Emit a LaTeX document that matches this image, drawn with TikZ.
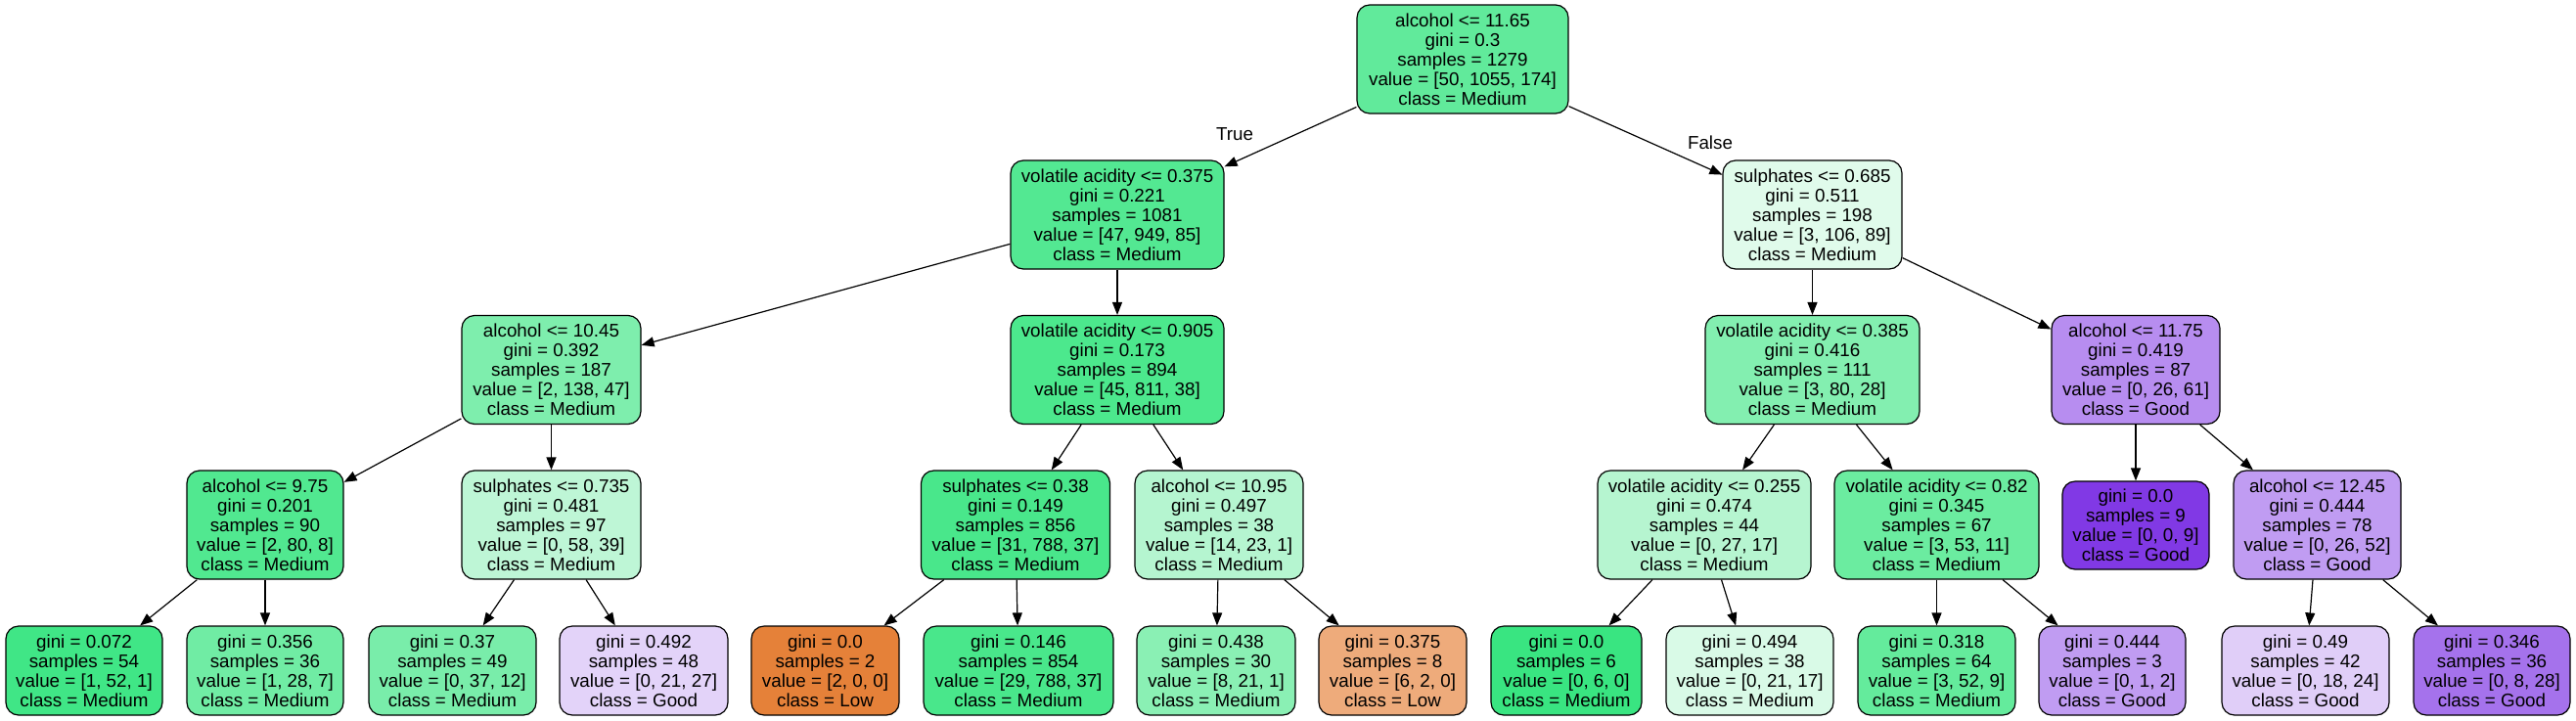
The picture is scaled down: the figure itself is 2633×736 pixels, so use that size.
\documentclass[tikz,border=0pt]{standalone}
\usepackage{fontspec}
\setmainfont{Liberation Sans}
\usetikzlibrary{arrows.meta}
\definecolor{cRoot}{RGB}{97,234,155}
\definecolor{cA}{RGB}{83,232,146}
\definecolor{cB}{RGB}{224,251,235}
\definecolor{cC}{RGB}{126,238,173}
\definecolor{cD}{RGB}{76,232,141}
\definecolor{cE}{RGB}{131,239,176}
\definecolor{cF}{RGB}{183,141,240}
\definecolor{cG}{RGB}{81,232,144}
\definecolor{cH}{RGB}{190,246,214}
\definecolor{cI}{RGB}{73,231,139}
\definecolor{cJ}{RGB}{181,245,208}
\definecolor{cK}{RGB}{182,245,208}
\definecolor{cM}{RGB}{107,236,160}
\definecolor{cN}{RGB}{129,57,229}
\definecolor{cO}{RGB}{192,156,242}
\definecolor{cLa}{RGB}{64,230,134}
\definecolor{cLb}{RGB}{112,236,164}
\definecolor{cLc}{RGB}{121,237,170}
\definecolor{cLd}{RGB}{227,211,249}
\definecolor{cLe}{RGB}{229,129,57}
\definecolor{cLf}{RGB}{73,231,139}
\definecolor{cLg}{RGB}{138,240,180}
\definecolor{cLh}{RGB}{238,171,123}
\definecolor{cLi}{RGB}{57,229,129}
\definecolor{cLj}{RGB}{217,250,231}
\definecolor{cLk}{RGB}{100,235,156}
\definecolor{cLl}{RGB}{192,156,242}
\definecolor{cLm}{RGB}{224,206,248}
\definecolor{cLn}{RGB}{165,114,236}
\begin{document}
\begin{tikzpicture}[x=1pt,y=-1pt,
  tn/.style={draw=black, line width=1.2pt, rounded corners=13pt, align=center, inner sep=0pt, font=\fontsize{18.8}{20}\selectfont},
  big/.style={tn, minimum height=111pt},
  leaf/.style={tn, minimum height=91pt},
  edge/.style={draw=black, line width=1.2pt, -{Triangle[length=13pt,width=10pt]}},
  lbl/.style={font=\fontsize{18.8}{20}\selectfont, inner sep=0pt}]
\useasboundingbox (0,0) rectangle (2633,736);
\fill[white] (0,0) rectangle (2633,736);

% level 1
\node[big, fill=cRoot, minimum width=216pt] (root) at (1495,60.5) {alcohol <= 11.65\\gini = 0.3\\samples = 1279\\value = [50, 1055, 174]\\class = Medium};
% level 2
\node[big, fill=cA, minimum width=218pt] (A) at (1142,219.5) {volatile acidity <= 0.375\\gini = 0.221\\samples = 1081\\value = [47, 949, 85]\\class = Medium};
\node[big, fill=cB, minimum width=183pt] (B) at (1852.5,219.5) {sulphates <= 0.685\\gini = 0.511\\samples = 198\\value = [3, 106, 89]\\class = Medium};
% level 3
\node[big, fill=cC, minimum width=183pt] (C) at (563.5,378) {alcohol <= 10.45\\gini = 0.392\\samples = 187\\value = [2, 138, 47]\\class = Medium};
\node[big, fill=cD, minimum width=218pt] (D) at (1142,378) {volatile acidity <= 0.905\\gini = 0.173\\samples = 894\\value = [45, 811, 38]\\class = Medium};
\node[big, fill=cE, minimum width=219pt] (E) at (1852.5,378) {volatile acidity <= 0.385\\gini = 0.416\\samples = 111\\value = [3, 80, 28]\\class = Medium};
\node[big, fill=cF, minimum width=172pt] (F) at (2183,378) {alcohol <= 11.75\\gini = 0.419\\samples = 87\\value = [0, 26, 61]\\class = Good};
% level 4
\node[big, fill=cG, minimum width=160pt] (G) at (271,536.5) {alcohol <= 9.75\\gini = 0.201\\samples = 90\\value = [2, 80, 8]\\class = Medium};
\node[big, fill=cH, minimum width=183pt] (H) at (563.5,536.5) {sulphates <= 0.735\\gini = 0.481\\samples = 97\\value = [0, 58, 39]\\class = Medium};
\node[big, fill=cI, minimum width=193pt] (I) at (1038,536.5) {sulphates <= 0.38\\gini = 0.149\\samples = 856\\value = [31, 788, 37]\\class = Medium};
\node[big, fill=cJ, minimum width=172pt] (J) at (1246,536.5) {alcohol <= 10.95\\gini = 0.497\\samples = 38\\value = [14, 23, 1]\\class = Medium};
\node[big, fill=cK, minimum width=218pt] (K) at (1742,536.5) {volatile acidity <= 0.255\\gini = 0.474\\samples = 44\\value = [0, 27, 17]\\class = Medium};
\node[big, fill=cM, minimum width=209pt] (M) at (1979.5,536.5) {volatile acidity <= 0.82\\gini = 0.345\\samples = 67\\value = [3, 53, 11]\\class = Medium};
\node[leaf, fill=cN, minimum width=150pt, minimum height=90pt] (N) at (2183,537) {gini = 0.0\\samples = 9\\value = [0, 0, 9]\\class = Good};
\node[big, fill=cO, minimum width=171pt] (O) at (2368.5,536.5) {alcohol <= 12.45\\gini = 0.444\\samples = 78\\value = [0, 26, 52]\\class = Good};
% level 5
\node[leaf, fill=cLa, minimum width=160pt] (L1) at (86,685.5) {gini = 0.072\\samples = 54\\value = [1, 52, 1]\\class = Medium};
\node[leaf, fill=cLb, minimum width=160pt] (L2) at (271,685.5) {gini = 0.356\\samples = 36\\value = [1, 28, 7]\\class = Medium};
\node[leaf, fill=cLc, minimum width=171pt] (L3) at (462.5,685.5) {gini = 0.37\\samples = 49\\value = [0, 37, 12]\\class = Medium};
\node[leaf, fill=cLd, minimum width=172pt] (L4) at (658,685.5) {gini = 0.492\\samples = 48\\value = [0, 21, 27]\\class = Good};
\node[leaf, fill=cLe, minimum width=151pt] (L5) at (843.5,685.5) {gini = 0.0\\samples = 2\\value = [2, 0, 0]\\class = Low};
\node[leaf, fill=cLf, minimum width=194pt] (L6) at (1041,685.5) {gini = 0.146\\samples = 854\\value = [29, 788, 37]\\class = Medium};
\node[leaf, fill=cLg, minimum width=162pt] (L7) at (1243,685.5) {gini = 0.438\\samples = 30\\value = [8, 21, 1]\\class = Medium};
\node[leaf, fill=cLh, minimum width=151pt] (L8) at (1423.5,685.5) {gini = 0.375\\samples = 8\\value = [6, 2, 0]\\class = Low};
\node[leaf, fill=cLi, minimum width=154pt] (L9) at (1601,685.5) {gini = 0.0\\samples = 6\\value = [0, 6, 0]\\class = Medium};
\node[leaf, fill=cLj, minimum width=171pt] (L10) at (1788.5,685.5) {gini = 0.494\\samples = 38\\value = [0, 21, 17]\\class = Medium};
\node[leaf, fill=cLk, minimum width=161pt] (L11) at (1979.5,685.5) {gini = 0.318\\samples = 64\\value = [3, 52, 9]\\class = Medium};
\node[leaf, fill=cLl, minimum width=150pt] (L12) at (2159,685.5) {gini = 0.444\\samples = 3\\value = [0, 1, 2]\\class = Good};
\node[leaf, fill=cLm, minimum width=171pt] (L13) at (2356.5,685.5) {gini = 0.49\\samples = 42\\value = [0, 18, 24]\\class = Good};
\node[leaf, fill=cLn, minimum width=160pt] (L14) at (2547,685.5) {gini = 0.346\\samples = 36\\value = [0, 8, 28]\\class = Good};

% edge labels
\node[lbl] (tT) at (1262,137) {True};
\node[lbl] (tF) at (1748,146) {False};

% edges
\draw[edge] (root) -- (A);
\draw[edge] (root) -- (B);
\draw[edge] (A) -- (C);
\draw[edge] (A) -- (D);
\draw[edge] (B) -- (E);
\draw[edge] (B) -- (F);
\draw[edge] (C) -- (G);
\draw[edge] (C) -- (H);
\draw[edge] (D) -- (I);
\draw[edge] (D) -- (J);
\draw[edge] (E) -- (K);
\draw[edge] (E) -- (M);
\draw[edge] (F) -- (N);
\draw[edge] (F) -- (O);
\draw[edge] (G) -- (L1);
\draw[edge] (G) -- (L2);
\draw[edge] (H) -- (L3);
\draw[edge] (H) -- (L4);
\draw[edge] (I) -- (L5);
\draw[edge] (I) -- (L6);
\draw[edge] (J) -- (L7);
\draw[edge] (J) -- (L8);
\draw[edge] (K) -- (L9);
\draw[edge] (K) -- (L10);
\draw[edge] (M) -- (L11);
\draw[edge] (M) -- (L12);
\draw[edge] (O) -- (L13);
\draw[edge] (O) -- (L14);
\end{tikzpicture}
\end{document}
